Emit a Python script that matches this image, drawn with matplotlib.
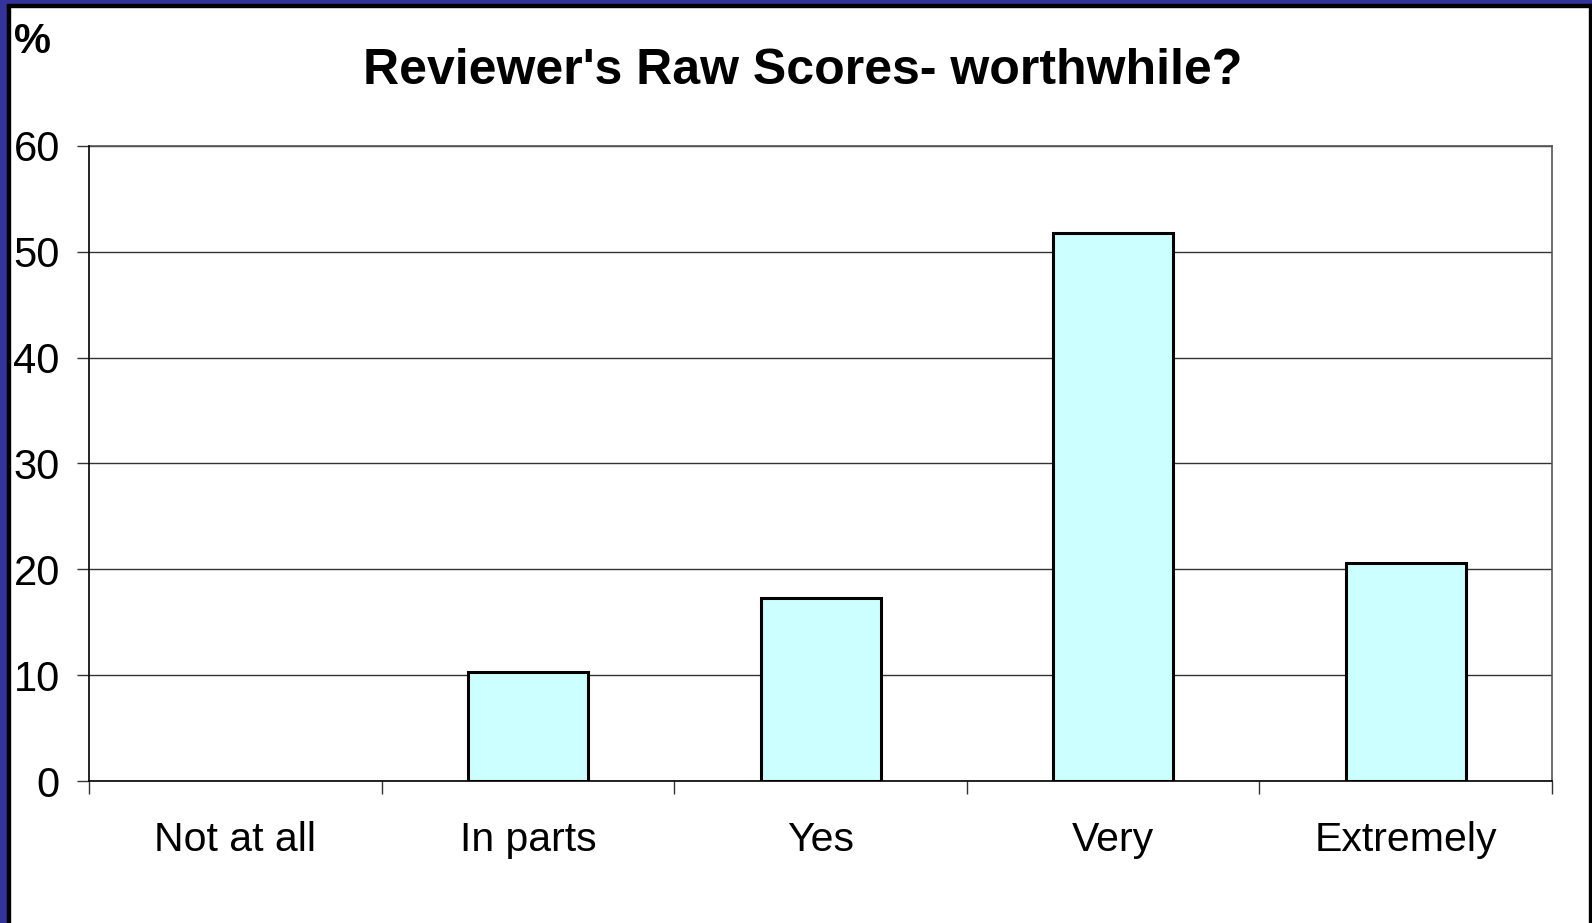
import matplotlib.pyplot as plt
import matplotlib.patches as mpatches
import numpy as np

plt.rcParams['font.family'] = ['Liberation Sans', 'DejaVu Sans']

# answers and share of reviewers (%)
categories = ['Not at all', 'In parts', 'Yes', 'Very', 'Extremely']
scores = [0, 10.3, 17.3, 51.8, 20.6]

fig = plt.figure(figsize=(15.92, 9.23), dpi=100)
ax = fig.add_axes([0.0559, 0.1538, 0.9749 - 0.0559, 0.8421 - 0.1538])

x = np.arange(len(categories))
# empty bars get no outline, like the original
edge_w = [0 if v == 0 else 2.2 for v in scores]
ax.bar(x, scores, width=0.41, color='#CCFFFF', edgecolor='black', linewidth=edge_w, zorder=2)

ax.set_xlim(-0.5, len(categories) - 0.5)
ax.set_ylim(0, 60)
ax.set_yticks(np.arange(0, 61, 10))
ax.yaxis.grid(True, color='#333333', linewidth=1.0, zorder=0)

# tick marks between categories, labels at the centres
ax.set_xticks(np.arange(-0.5, len(categories), 1.0))
ax.set_xticklabels([])
ax.set_xticks(x, minor=True)
ax.set_xticklabels(categories, minor=True)
ax.tick_params(axis='x', which='major', direction='out', length=9, width=1, color='#333333')
ax.tick_params(axis='x', which='minor', length=0, pad=29, labelsize=29.5)
ax.tick_params(axis='y', direction='out', length=9, width=1, color='#333333', pad=12, labelsize=30)

for s in ['top', 'right']:
    ax.spines[s].set_color('#555555')
    ax.spines[s].set_linewidth(1.2)
for s in ['left', 'bottom']:
    ax.spines[s].set_color('black')
    ax.spines[s].set_linewidth(1.2)
    ax.spines[s].set_zorder(3)

fig.text(0.504, 0.923, "Reviewer's Raw Scores- worthwhile?", ha='center', va='center',
         fontsize=36, fontweight='bold')
fig.text(0.009, 0.955, '%', ha='left', va='center', fontsize=30, fontweight='bold')

# dark blue slide frame
blue = '#333399'
W, H = 1592.0, 923.0
fig.patches.append(mpatches.Rectangle((0, 0), 7 / W, 1, transform=fig.transFigure, color=blue, zorder=10))
fig.patches.append(mpatches.Rectangle((7 / W, 0), 3 / W, 1 - 4 / H, transform=fig.transFigure, color='black', zorder=10))
fig.patches.append(mpatches.Rectangle((0, 1 - 4 / H), 1, 4 / H, transform=fig.transFigure, color=blue, zorder=10))
fig.patches.append(mpatches.Rectangle((7 / W, 1 - 7 / H), 1, 3 / H, transform=fig.transFigure, color='black', zorder=10))
fig.patches.append(mpatches.Rectangle((1 - 3 / W, 0), 3 / W, 1 - 4 / H, transform=fig.transFigure, color='black', zorder=10))

fig.savefig('out.png', dpi=100)
